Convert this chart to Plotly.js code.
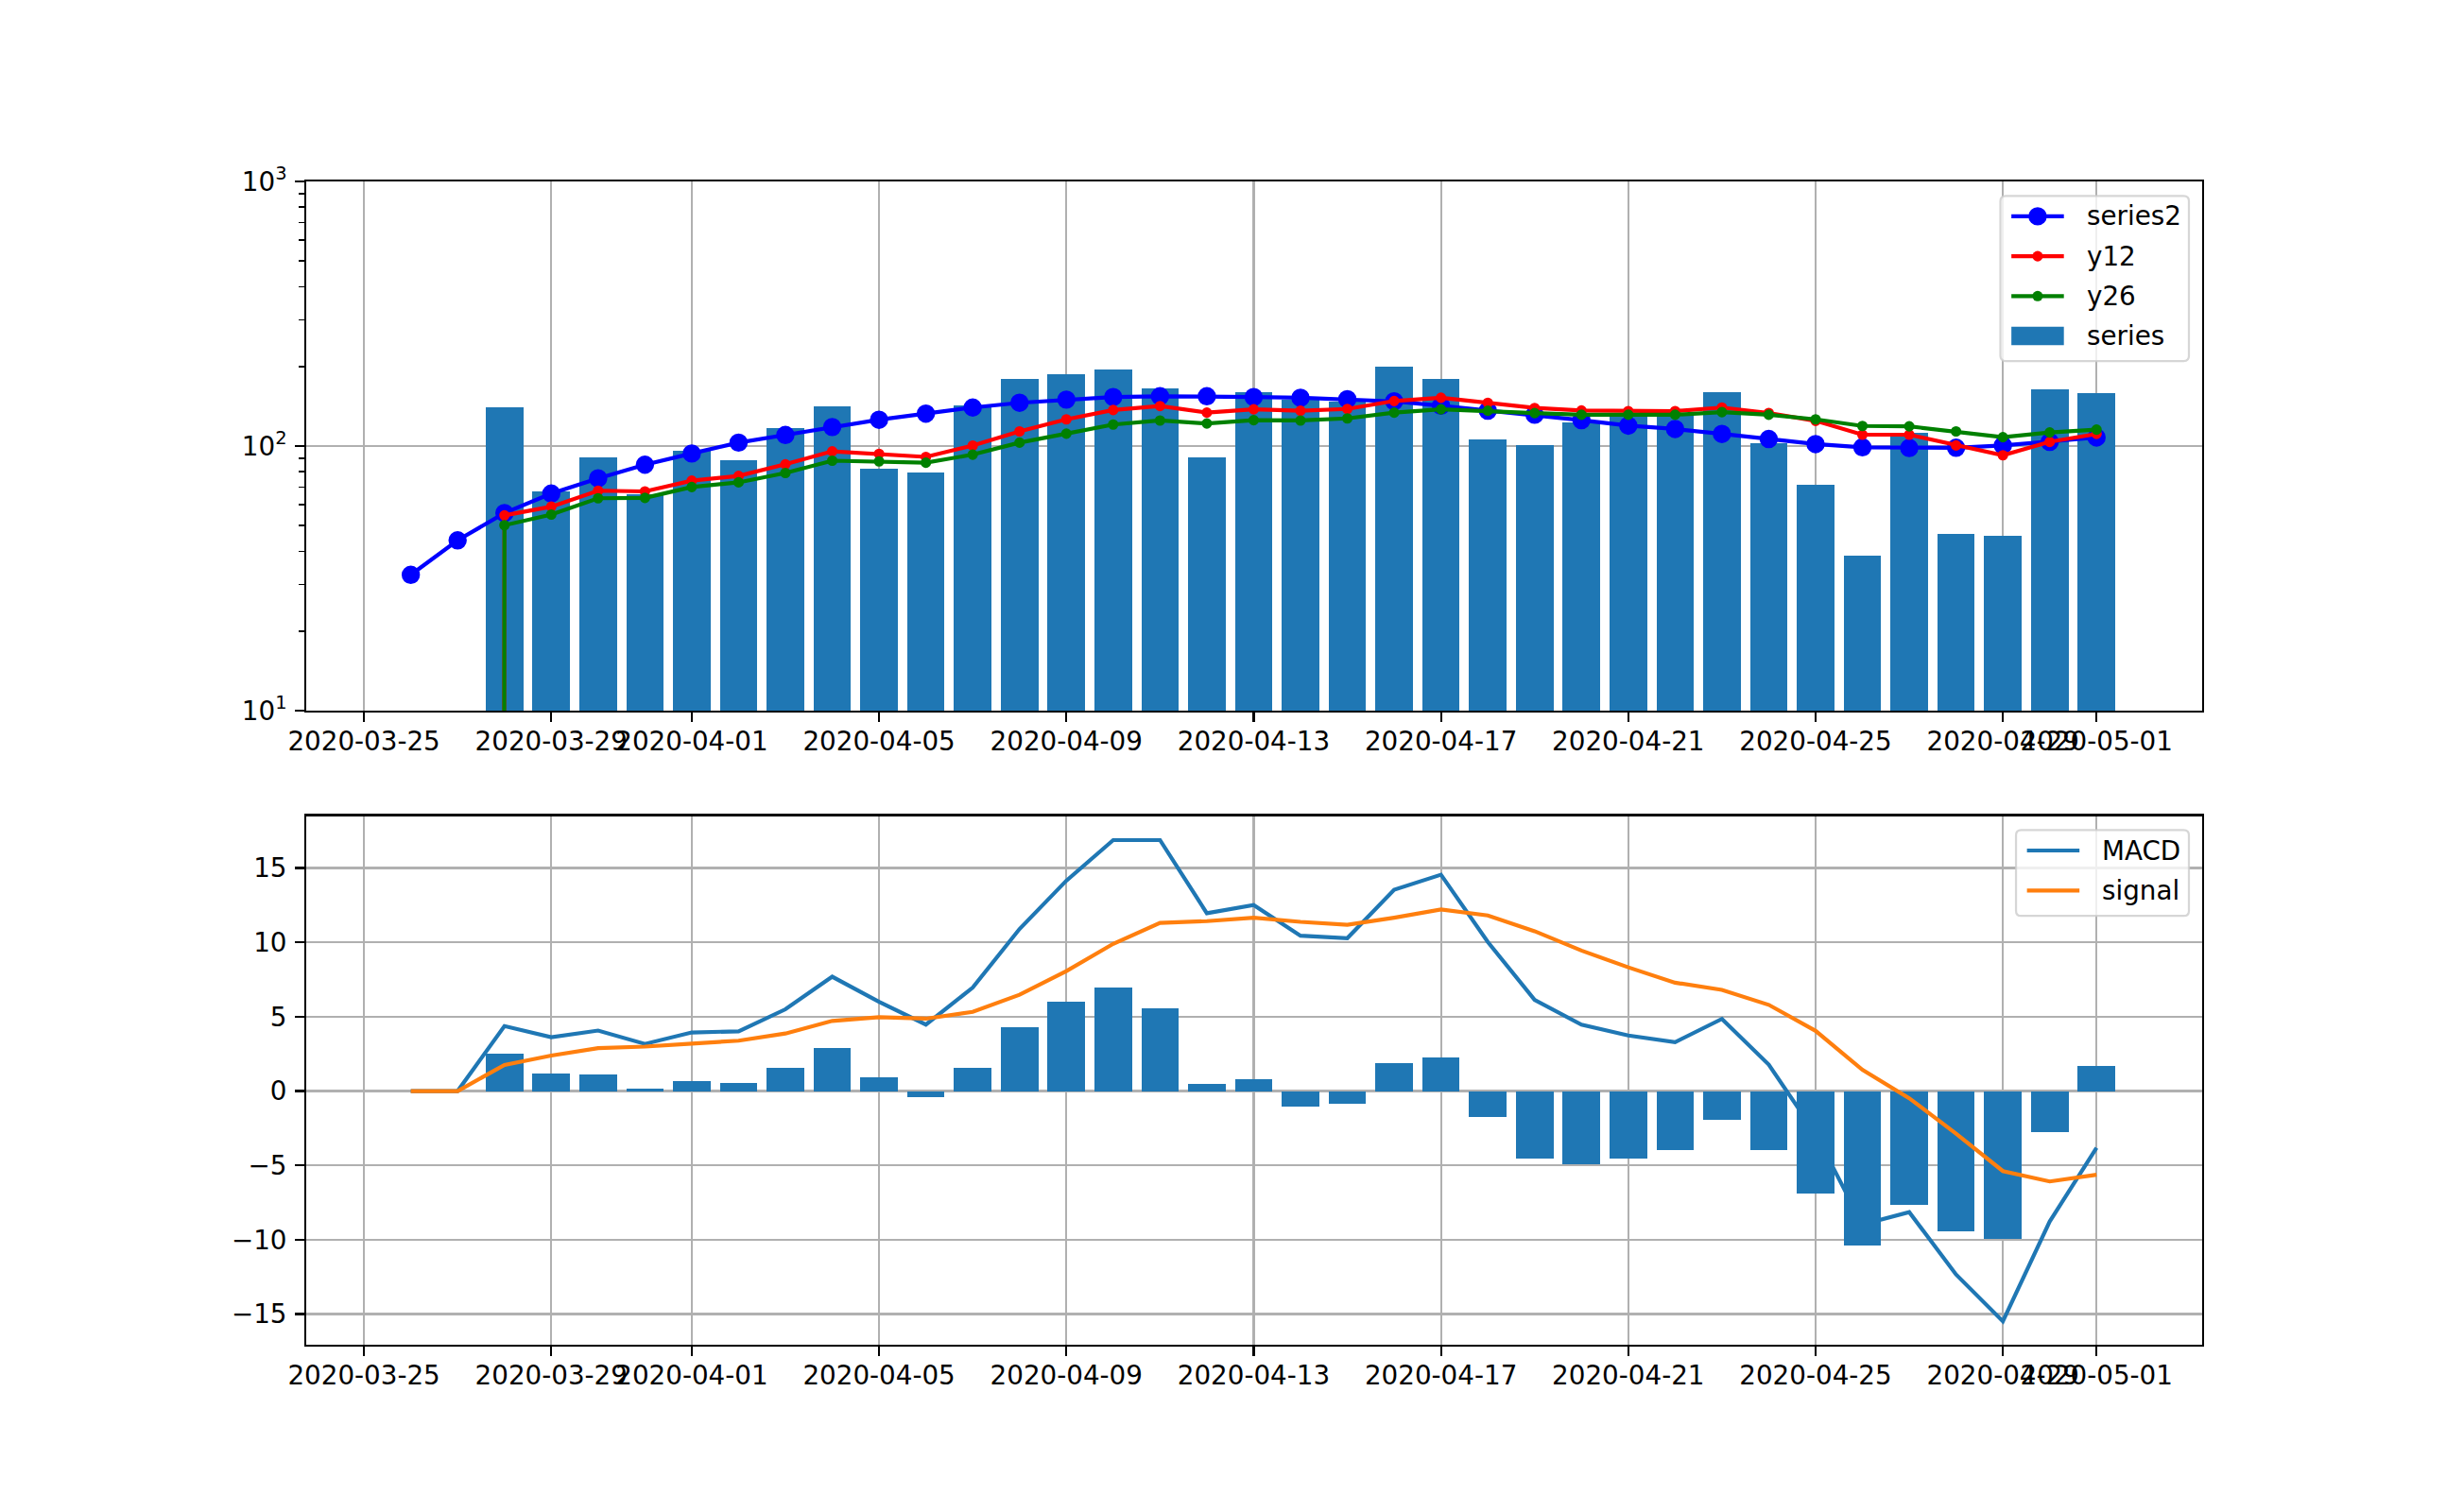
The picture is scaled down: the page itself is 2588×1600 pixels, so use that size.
<!DOCTYPE html>
<html>
<head>
<meta charset="utf-8">
<script src="https://cdn.plot.ly/plotly-3.0.1.min.js"></script>
<style>html,body{margin:0;padding:0;background:#fff;}</style>
</head>
<body>
<div id="chart" style="width:2588px;height:1600px;"></div>
<script>
// ---- data ----
const dates = ['2020-03-26','2020-03-27','2020-03-28','2020-03-29','2020-03-30','2020-03-31',
  '2020-04-01','2020-04-02','2020-04-03','2020-04-04','2020-04-05','2020-04-06','2020-04-07',
  '2020-04-08','2020-04-09','2020-04-10','2020-04-11','2020-04-12','2020-04-13','2020-04-14',
  '2020-04-15','2020-04-16','2020-04-17','2020-04-18','2020-04-19','2020-04-20','2020-04-21',
  '2020-04-22','2020-04-23','2020-04-24','2020-04-25','2020-04-26','2020-04-27','2020-04-28',
  '2020-04-29','2020-04-30','2020-05-01'];

const series = [null,null,140.6,67.6,90.8,65.8,96.1,88.5,117.3,141.5,82.4,79.6,142.9,179.8,187.4,
  195.2,165.7,90.8,160.1,150,147,200.1,179.8,106.3,101.1,122.4,133,133,160.1,102.7,71.5,38.6,112,
  46.6,45.9,164.1,159.1];

const series2 = [32.6,44.0,55.8,66.1,75.5,85.0,93.7,103.0,110.1,118.0,125.7,132.6,139.8,145.7,149.8,
  153.2,154.2,154.2,153.2,152.2,150.3,147.5,142,136.0,131.3,125.3,119.4,116.0,111.1,106.3,101.7,98.9,
  98.3,98.5,100.5,103.7,107.7];

const y12 = [0,0,54.7,59.0,67.8,67.4,74.0,77.1,85.3,95.5,93.4,91.0,100.4,113.6,126.1,136.8,141.6,133.8,
  137.7,136.0,138.1,148.0,152.2,145.7,139.3,136.3,135.5,135.5,139.8,133.4,124.5,110.4,110.4,100.5,92.3,
  103.7,111.1];

const y26 = [0,0,50.2,55.1,63.5,63.7,70.0,72.9,79.1,88.0,87.5,86.5,92.8,103.0,111.4,120.6,124.9,121.7,
  125.3,124.9,127.2,133.8,137.7,136.0,133.2,131.3,131.3,131.3,134.3,131.3,126.1,119.1,118.7,113.6,108.0,
  112.5,115.4];

const macd = [0,0,4.37,3.62,4.07,3.17,3.94,4.02,5.50,7.69,6.0,4.47,6.96,10.9,14.15,16.88,16.88,11.96,
  12.51,10.45,10.28,13.54,14.55,10.03,6.13,4.47,3.74,3.29,4.85,1.78,-2.86,-8.97,-8.14,-12.34,-15.48,
  -8.77,-3.82];

const signal = [0,0,1.76,2.39,2.89,2.99,3.19,3.39,3.87,4.72,4.97,4.87,5.33,6.48,8.07,9.90,11.31,11.43,
  11.66,11.38,11.18,11.66,12.21,11.81,10.75,9.45,8.32,7.29,6.81,5.80,4.05,1.43,-0.48,-2.86,-5.38,
  -6.08,-5.63];

const hist = [0,0,2.54,1.21,1.13,0.18,0.68,0.55,1.58,2.91,0.95,-0.43,1.58,4.32,6.03,6.98,5.58,0.50,
  0.83,-1.03,-0.88,1.91,2.29,-1.73,-4.55,-4.95,-4.55,-3.99,-1.96,-3.99,-6.91,-10.40,-7.66,-9.45,
  -9.95,-2.79,1.71];

const xTicks = ['2020-03-25','2020-03-29','2020-04-01','2020-04-05','2020-04-09','2020-04-13',
  '2020-04-17','2020-04-21','2020-04-25','2020-04-29','2020-05-01'];
const yTopTicks = [10, 100, 1000];
const yTopTickText = ['10<sup>1</sup>','10<sup>2</sup>','10<sup>3</sup>'];
const yBotTicks = [-15,-10,-5,0,5,10,15];
const yBotTickText = ['\u221215','\u221210','\u22125','0','5','10','15'];

const topLegendNames = ['series2', 'y12', 'y26', 'series'];
const botLegendNames = ['MACD', 'signal'];

// ---- styling ----
const PT = 200/72;               // 1 pt in px
const FONT = 'DejaVu Sans';
const FS = 10*PT;
const DAY = 86400000;
const xRange = ['2020-03-23 18:24', '2020-05-03 06:08'];
const C = {blue: '#0000ff', red: '#ff0000', green: '#008000', bar: '#1f77b4', orange: '#ff7f0e'};
// matplotlib clips non-positive values on log axes to a tiny number
const clipLog = a => a.map(v => (v === null ? null : (v <= 0 ? 1e-300 : v)));

const minorTop = [];
[10,100].forEach(d => { for (let k = 2; k <= 9; k++) minorTop.push(k*d); });

const axisCommon = {
  showline: true, mirror: true, linecolor: '#000', linewidth: 0.8*PT,
  ticks: 'outside', ticklen: 3.5*PT, tickwidth: 0.8*PT, tickcolor: '#000',
  showgrid: true, gridcolor: '#b0b0b0', gridwidth: 0.8*PT, zeroline: false,
  tickfont: {family: FONT, size: FS, color: '#000'}
};

const traces = [
  {x: dates, y: series2, name: 'series2', type: 'scatter', mode: 'lines+markers',
   line: {color: C.blue, width: 1.5*PT},
   marker: {color: C.blue, size: 6*PT, line: {color: C.blue, width: 1*PT}},
   xaxis: 'x', yaxis: 'y'},
  {x: dates, y: clipLog(y12), name: 'y12', type: 'scatter', mode: 'lines+markers',
   line: {color: C.red, width: 1.5*PT},
   marker: {color: C.red, size: 3*PT, line: {color: C.red, width: 1*PT}},
   xaxis: 'x', yaxis: 'y'},
  {x: dates, y: clipLog(y26), name: 'y26', type: 'scatter', mode: 'lines+markers',
   line: {color: C.green, width: 1.5*PT},
   marker: {color: C.green, size: 3*PT, line: {color: C.green, width: 1*PT}},
   xaxis: 'x', yaxis: 'y'},
  {x: dates, y: series, name: 'series', type: 'bar', width: 0.8*DAY,
   marker: {color: C.bar, line: {width: 0}}, xaxis: 'x', yaxis: 'y'},
  // bottom panel: MACD under the bars, signal above them
  {x: dates, y: macd, name: 'MACD', type: 'scatter', mode: 'lines',
   line: {color: C.bar, width: 1.5*PT}, xaxis: 'x2', yaxis: 'y2'},
  {x: dates, y: hist, name: 'hist', type: 'bar', width: 0.8*DAY,
   marker: {color: C.bar, line: {width: 0}}, xaxis: 'x3', yaxis: 'y3'},
  {x: dates, y: signal, name: 'signal', type: 'scatter', mode: 'lines',
   line: {color: C.orange, width: 1.5*PT}, xaxis: 'x3', yaxis: 'y3'}
];

// ---- matplotlib-style legends built from shapes + text ----
const PL = 323.6, PR = 2330, PT_ = 191.7, PB = 1423.5;
const fx = x => (x - PL) / (PR - PL);
const fy = y => (PB - y) / (PB - PT_);
function roundRect(x0, y0, x1, y1, r) {
  const p = (x, y) => fx(x) + ',' + fy(y);
  return 'M' + p(x0 + r, y0) + ' L' + p(x1 - r, y0) + ' Q' + p(x1, y0) + ' ' + p(x1, y0 + r) +
    ' L' + p(x1, y1 - r) + ' Q' + p(x1, y1) + ' ' + p(x1 - r, y1) +
    ' L' + p(x0 + r, y1) + ' Q' + p(x0, y1) + ' ' + p(x0, y1 - r) +
    ' L' + p(x0, y0 + r) + ' Q' + p(x0, y0) + ' ' + p(x0 + r, y0) + ' Z';
}
const shapes = [], annotations = [];
function legendBox(x0, y0, x1, y1) {
  shapes.push({type: 'path', xref: 'paper', yref: 'paper', layer: 'above',
    path: roundRect(x0, y0, x1, y1, 0.2*FS), fillcolor: 'rgba(255,255,255,0.8)',
    line: {color: 'rgba(204,204,204,0.8)', width: 0.8*PT}});
}
function legendLine(hx0, hx1, y, color, markerD) {
  shapes.push({type: 'line', xref: 'paper', yref: 'paper', layer: 'above',
    x0: fx(hx0), x1: fx(hx1), y0: fy(y), y1: fy(y), line: {color: color, width: 1.5*PT}});
  if (markerD) {
    const cx = (hx0 + hx1) / 2, r = markerD / 2;
    shapes.push({type: 'circle', xref: 'paper', yref: 'paper', layer: 'above',
      x0: fx(cx - r), x1: fx(cx + r), y0: fy(y + r), y1: fy(y - r),
      fillcolor: color, line: {width: 0}});
  }
}
function legendRect(hx0, hx1, y, color) {
  const h = 0.7*FS;
  shapes.push({type: 'rect', xref: 'paper', yref: 'paper', layer: 'above',
    x0: fx(hx0), x1: fx(hx1), y0: fy(y + h/2), y1: fy(y - h/2),
    fillcolor: color, line: {width: 0}});
}
function legendText(x, y, text) {
  annotations.push({xref: 'paper', yref: 'paper', x: fx(x), y: fy(y), text: text,
    showarrow: false, xanchor: 'left', yanchor: 'middle',
    font: {family: FONT, size: FS, color: '#000'}});
}
// top legend
(function () {
  const bx0 = 2116.5, bx1 = 2316, by0 = 207, by1 = 382;
  const hx0 = bx0 + 0.4*FS + 0.5, hx1 = hx0 + 2*FS, tx = hx1 + 0.8*FS;
  const rows = [228.6, 270.9, 313.1, 355.3];
  legendBox(bx0, by0, bx1, by1);
  legendLine(hx0, hx1, rows[0], C.blue, 7*PT);
  legendLine(hx0, hx1, rows[1], C.red, 4*PT);
  legendLine(hx0, hx1, rows[2], C.green, 4*PT);
  legendRect(hx0, hx1, rows[3], C.bar);
  topLegendNames.forEach((n, i) => legendText(tx, rows[i], n));
})();
// bottom legend
(function () {
  const bx0 = 2133, bx1 = 2316, by0 = 878.5, by1 = 969.4;
  const hx0 = bx0 + 0.4*FS + 0.5, hx1 = hx0 + 2*FS, tx = hx1 + 0.8*FS;
  const rows = [900.2, 942.6];
  legendBox(bx0, by0, bx1, by1);
  legendLine(hx0, hx1, rows[0], C.bar, 0);
  legendLine(hx0, hx1, rows[1], C.orange, 0);
  botLegendNames.forEach((n, i) => legendText(tx, rows[i], n));
})();

const yBotRange = [-17.06, 18.49];

const layout = {
  width: 2588, height: 1600,
  margin: {l: PL, r: 2588 - PR, t: PT_, b: 1600 - PB, pad: 0},
  paper_bgcolor: '#fff', plot_bgcolor: '#fff',
  font: {family: FONT, size: FS, color: '#000'},
  barmode: 'overlay', bargap: 0, showlegend: false,
  xaxis: Object.assign({}, axisCommon, {type: 'date', range: xRange, anchor: 'y',
    tickmode: 'array', tickvals: xTicks, ticktext: xTicks, tickangle: 0, ticklabelstandoff: -3}),
  yaxis: Object.assign({}, axisCommon, {type: 'log', range: [1, 3], anchor: 'x',
    domain: [0.5451, 1], tickmode: 'array', tickvals: yTopTicks, ticktext: yTopTickText,
    ticklabelstandoff: 3,
    minor: {tickmode: 'array', tickvals: minorTop, ticks: 'outside', ticklen: 2*PT,
            tickwidth: 0.6*PT, tickcolor: '#000', showgrid: false}}),
  xaxis2: Object.assign({}, axisCommon, {type: 'date', range: xRange, anchor: 'y2',
    tickmode: 'array', tickvals: xTicks, ticktext: xTicks, tickangle: 0, ticklabelstandoff: -3}),
  yaxis2: Object.assign({}, axisCommon, {range: yBotRange, anchor: 'x2', domain: [0, 0.4544],
    tickmode: 'array', tickvals: yBotTicks, ticktext: yBotTickText, ticklabelstandoff: 3}),
  xaxis3: {type: 'date', range: xRange, overlaying: 'x2', anchor: 'y3', visible: false,
    showgrid: false, zeroline: false},
  yaxis3: {range: yBotRange, overlaying: 'y2', anchor: 'x3', visible: false,
    showgrid: false, zeroline: false},
  shapes: shapes,
  annotations: annotations
};

Plotly.newPlot('chart', traces, layout, {staticPlot: true, displayModeBar: false});
</script>
</body>
</html>
